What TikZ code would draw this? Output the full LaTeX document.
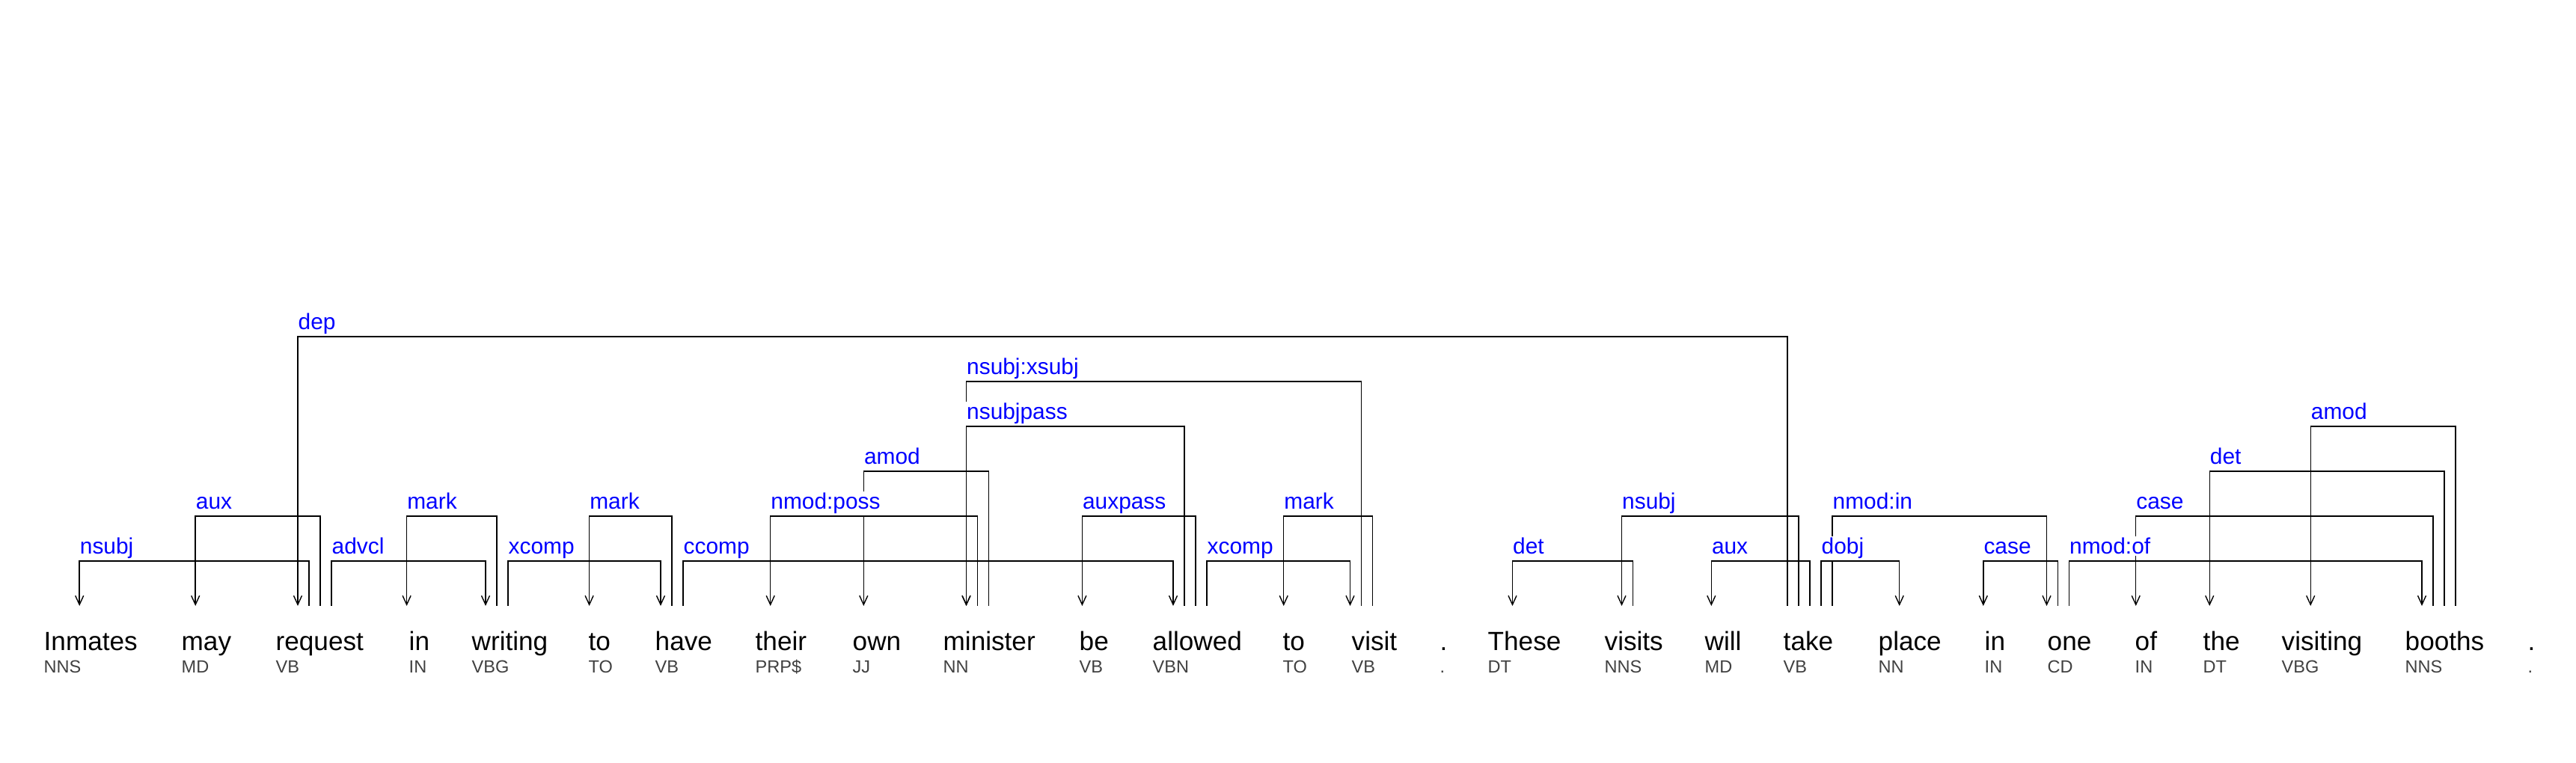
\documentclass[tikz,border=0pt]{standalone}
\usepackage{fontspec}
\setmainfont{Liberation Sans}
\usepackage{tikz}
\usetikzlibrary{positioning}
\usetikzlibrary{arrows.meta}
\tikzstyle{line} = [draw, line width=0.4pt, -{Straight Barb[length=1.2mm,width=1.1mm]}]

\begin{document}
\begin{tikzpicture}

  \tikzstyle{word} = [anchor=base west, inner sep=0pt, font=\fontsize{10}{12}\selectfont]
  \tikzstyle{postag} = [anchor=base west, inner sep=0pt, text=black!75, font=\fontsize{6.7}{8}\selectfont]
  \tikzstyle{rel} = [anchor=base west, inner sep=0.6pt, xshift=-0.6pt, yshift=0.9mm, fill=white, text=blue, font=\fontsize{8.5}{10}\selectfont]

  \useasboundingbox (0,0) rectangle (34.43,10.2);

  % Words
  \node [word] (inmates) at (0.58,1.5) {Inmates};
  \node [word] (may) at (2.42,1.5) {may};
  \node [word] (request) at (3.68,1.5) {request};
  \node [word] (in1) at (5.46,1.5) {in};
  \node [word] (writing) at (6.30,1.5) {writing};
  \node [word] (to1) at (7.86,1.5) {to};
  \node [word] (have) at (8.75,1.5) {have};
  \node [word] (their) at (10.09,1.5) {their};
  \node [word] (own) at (11.39,1.5) {own};
  \node [word] (minister) at (12.60,1.5) {minister};
  \node [word] (be) at (14.42,1.5) {be};
  \node [word] (allowed) at (15.40,1.5) {allowed};
  \node [word] (to2) at (17.14,1.5) {to};
  \node [word] (visit) at (18.06,1.5) {visit};
  \node [word] (dot1) at (19.24,1.5) {.};
  \node [word] (these) at (19.88,1.5) {These};
  \node [word] (visits) at (21.44,1.5) {visits};
  \node [word] (will) at (22.78,1.5) {will};
  \node [word] (take) at (23.83,1.5) {take};
  \node [word] (place) at (25.10,1.5) {place};
  \node [word] (in2) at (26.52,1.5) {in};
  \node [word] (one) at (27.36,1.5) {one};
  \node [word] (of) at (28.53,1.5) {of};
  \node [word] (the) at (29.44,1.5) {the};
  \node [word] (visiting) at (30.49,1.5) {visiting};
  \node [word] (booths) at (32.14,1.5) {booths};
  \node [word] (dot2) at (33.78,1.5) {.};

  % Tags
  \node [postag] (inmates-t) at ([yshift=-3mm]inmates.base west) {NNS};
  \node [postag] (may-t) at ([yshift=-3mm]may.base west) {MD};
  \node [postag] (request-t) at ([yshift=-3mm]request.base west) {VB};
  \node [postag] (in1-t) at ([yshift=-3mm]in1.base west) {IN};
  \node [postag] (writing-t) at ([yshift=-3mm]writing.base west) {VBG};
  \node [postag] (to1-t) at ([yshift=-3mm]to1.base west) {TO};
  \node [postag] (have-t) at ([yshift=-3mm]have.base west) {VB};
  \node [postag] (their-t) at ([yshift=-3mm]their.base west) {PRP\$};
  \node [postag] (own-t) at ([yshift=-3mm]own.base west) {JJ};
  \node [postag] (minister-t) at ([yshift=-3mm]minister.base west) {NN};
  \node [postag] (be-t) at ([yshift=-3mm]be.base west) {VB};
  \node [postag] (allowed-t) at ([yshift=-3mm]allowed.base west) {VBN};
  \node [postag] (to2-t) at ([yshift=-3mm]to2.base west) {TO};
  \node [postag] (visit-t) at ([yshift=-3mm]visit.base west) {VB};
  \node [postag] (dot1-t) at ([yshift=-3mm]dot1.base west) {.};
  \node [postag] (these-t) at ([yshift=-3mm]these.base west) {DT};
  \node [postag] (visits-t) at ([yshift=-3mm]visits.base west) {NNS};
  \node [postag] (will-t) at ([yshift=-3mm]will.base west) {MD};
  \node [postag] (take-t) at ([yshift=-3mm]take.base west) {VB};
  \node [postag] (place-t) at ([yshift=-3mm]place.base west) {NN};
  \node [postag] (in2-t) at ([yshift=-3mm]in2.base west) {IN};
  \node [postag] (one-t) at ([yshift=-3mm]one.base west) {CD};
  \node [postag] (of-t) at ([yshift=-3mm]of.base west) {IN};
  \node [postag] (the-t) at ([yshift=-3mm]the.base west) {DT};
  \node [postag] (visiting-t) at ([yshift=-3mm]visiting.base west) {VBG};
  \node [postag] (booths-t) at ([yshift=-3mm]booths.base west) {NNS};
  \node [postag] (dot2-t) at ([yshift=-3mm]dot2.base west) {.};

  % Arrow slots above the words
  \coordinate (inmates-0) at (1.062,2.1);
  \coordinate (may-0) at (2.612,2.1);
  \coordinate (request-0) at (3.98,2.1);  \coordinate (request-1) at (4.13,2.1);
  \coordinate (request-2) at (4.28,2.1);  \coordinate (request-3) at (4.43,2.1);
  \coordinate (in1-0) at (5.436,2.1);
  \coordinate (writing-0) at (6.49,2.1);  \coordinate (writing-1) at (6.64,2.1);
  \coordinate (writing-2) at (6.79,2.1);
  \coordinate (to1-0) at (7.876,2.1);
  \coordinate (have-0) at (8.83,2.1);  \coordinate (have-1) at (8.98,2.1);
  \coordinate (have-2) at (9.13,2.1);
  \coordinate (their-0) at (10.297,2.1);
  \coordinate (own-0) at (11.543,2.1);
  \coordinate (minister-0) at (12.915,2.1);  \coordinate (minister-1) at (13.065,2.1);
  \coordinate (minister-2) at (13.215,2.1);
  \coordinate (be-0) at (14.464,2.1);
  \coordinate (allowed-0) at (15.68,2.1);  \coordinate (allowed-1) at (15.83,2.1);
  \coordinate (allowed-2) at (15.98,2.1);  \coordinate (allowed-3) at (16.13,2.1);
  \coordinate (to2-0) at (17.157,2.1);
  \coordinate (visit-0) at (18.045,2.1);  \coordinate (visit-1) at (18.195,2.1);
  \coordinate (visit-2) at (18.345,2.1);
  \coordinate (these-0) at (20.215,2.1);
  \coordinate (visits-0) at (21.675,2.1);  \coordinate (visits-1) at (21.825,2.1);
  \coordinate (will-0) at (22.873,2.1);
  \coordinate (take-0) at (23.89,2.1);  \coordinate (take-1) at (24.04,2.1);
  \coordinate (take-2) at (24.19,2.1);  \coordinate (take-3) at (24.34,2.1);
  \coordinate (take-4) at (24.49,2.1);
  \coordinate (place-0) at (25.387,2.1);
  \coordinate (in2-0) at (26.508,2.1);
  \coordinate (one-0) at (27.355,2.1);  \coordinate (one-1) at (27.505,2.1);
  \coordinate (one-2) at (27.655,2.1);
  \coordinate (of-0) at (28.547,2.1);
  \coordinate (the-0) at (29.532,2.1);
  \coordinate (visiting-0) at (30.882,2.1);
  \coordinate (booths-0) at (32.37,2.1);  \coordinate (booths-1) at (32.52,2.1);
  \coordinate (booths-2) at (32.67,2.1);  \coordinate (booths-3) at (32.82,2.1);

  % Levels
  \coordinate (lv1) at (0,2.7);
  \coordinate (lv2) at (0,3.3);
  \coordinate (lv3) at (0,3.9);
  \coordinate (lv4) at (0,4.5);
  \coordinate (lv5) at (0,5.1);
  \coordinate (lv6) at (0,5.7);

  % Arcs
  \path [line] (request-1) |- (inmates-0 |- lv1) -- (inmates-0);
  \path [line] (request-2) |- (may-0 |- lv2) -- (may-0);
  \path [line] (take-0) |- (request-0 |- lv6) -- (request-0);
  \path [line] (request-3) |- (writing-0 |- lv1) -- (writing-0);
  \path [line] (writing-1) |- (in1-0 |- lv2) -- (in1-0);
  \path [line] (writing-2) |- (have-0 |- lv1) -- (have-0);
  \path [line] (have-1) |- (to1-0 |- lv2) -- (to1-0);
  \path [line] (have-2) |- (allowed-0 |- lv1) -- (allowed-0);
  \path [line] (minister-1) |- (their-0 |- lv2) -- (their-0);
  \path [line] (minister-2) |- (own-0 |- lv3) -- (own-0);
  \path [line] (allowed-1) |- (minister-0 |- lv4) -- (minister-0);
  \path [line] (visit-1) |- (minister-0 |- lv5) -- (minister-0);
  \path [line] (allowed-2) |- (be-0 |- lv2) -- (be-0);
  \path [line] (allowed-3) |- (visit-0 |- lv1) -- (visit-0);
  \path [line] (visit-2) |- (to2-0 |- lv2) -- (to2-0);
  \path [line] (visits-1) |- (these-0 |- lv1) -- (these-0);
  \path [line] (take-1) |- (visits-0 |- lv2) -- (visits-0);
  \path [line] (take-2) |- (will-0 |- lv1) -- (will-0);
  \path [line] (take-3) |- (place-0 |- lv1) -- (place-0);
  \path [line] (take-4) |- (one-0 |- lv2) -- (one-0);
  \path [line] (one-1) |- (in2-0 |- lv1) -- (in2-0);
  \path [line] (one-2) |- (booths-0 |- lv1) -- (booths-0);
  \path [line] (booths-1) |- (of-0 |- lv2) -- (of-0);
  \path [line] (booths-2) |- (the-0 |- lv3) -- (the-0);
  \path [line] (booths-3) |- (visiting-0 |- lv4) -- (visiting-0);

  % Relation labels
  \node [rel] (r-nsubj1) at (inmates-0 |- lv1) {nsubj};
  \node [rel] (r-aux1) at (may-0 |- lv2) {aux};
  \node [rel] (r-dep) at (request-0 |- lv6) {dep};
  \node [rel] (r-advcl) at (request-3 |- lv1) {advcl};
  \node [rel] (r-mark1) at (in1-0 |- lv2) {mark};
  \node [rel] (r-xcomp1) at (writing-2 |- lv1) {xcomp};
  \node [rel] (r-mark2) at (to1-0 |- lv2) {mark};
  \node [rel] (r-ccomp) at (have-2 |- lv1) {ccomp};
  \node [rel] (r-poss) at (their-0 |- lv2) {nmod:poss};
  \node [rel] (r-amod1) at (own-0 |- lv3) {amod};
  \node [rel] (r-nsubjpass) at (minister-0 |- lv4) {nsubjpass};
  \node [rel] (r-xsubj) at (minister-0 |- lv5) {nsubj:xsubj};
  \node [rel] (r-auxpass) at (be-0 |- lv2) {auxpass};
  \node [rel] (r-xcomp2) at (allowed-3 |- lv1) {xcomp};
  \node [rel] (r-mark3) at (to2-0 |- lv2) {mark};
  \node [rel] (r-det1) at (these-0 |- lv1) {det};
  \node [rel] (r-nsubj2) at (visits-0 |- lv2) {nsubj};
  \node [rel] (r-aux2) at (will-0 |- lv1) {aux};
  \node [rel] (r-dobj) at (take-3 |- lv1) {dobj};
  \node [rel] (r-nmodin) at (take-4 |- lv2) {nmod:in};
  \node [rel] (r-case1) at (in2-0 |- lv1) {case};
  \node [rel] (r-nmodof) at (one-2 |- lv1) {nmod:of};
  \node [rel] (r-case2) at (of-0 |- lv2) {case};
  \node [rel] (r-det2) at (the-0 |- lv3) {det};
  \node [rel] (r-amod2) at (visiting-0 |- lv4) {amod};

\end{tikzpicture}
\end{document}
